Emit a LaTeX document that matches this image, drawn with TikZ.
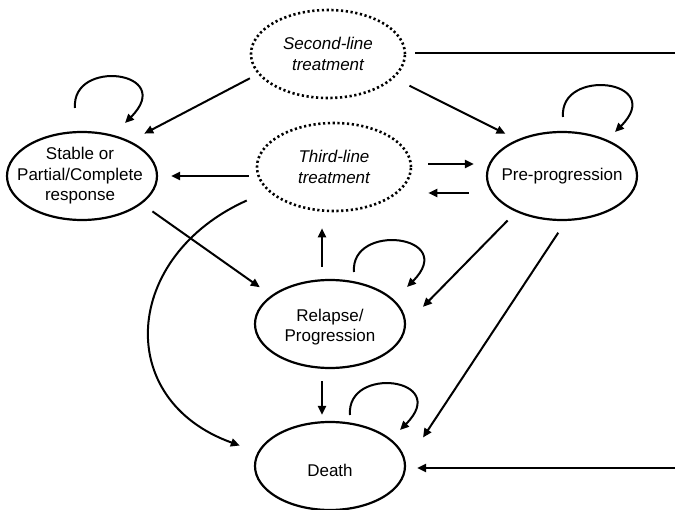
\documentclass[tikz,border=0pt]{standalone}
\usepackage{fontspec}
\setmainfont{Liberation Sans}
\usetikzlibrary{shapes.geometric,arrows.meta,calc}
\begin{document}
\begin{tikzpicture}[x=1pt,y=-1pt,
  st/.style={ellipse,draw,line width=2.2pt,minimum width=150pt,minimum height=88pt,inner sep=0pt},
  tr/.style={ellipse,draw,line width=2.6pt,dash pattern=on 2.2pt off 2.6pt,minimum width=154pt,minimum height=88pt,inner sep=0pt},
  lbl/.style={align=center,font=\fontsize{17}{20.5}\selectfont,inner sep=0pt},
  lbli/.style={align=center,font=\fontsize{17}{21}\selectfont\itshape,inner sep=0pt},
  arr/.style={line width=2pt,-{Triangle[length=9pt,width=8pt]}}
]
\useasboundingbox (0,0) rectangle (675,510);
\clip (0,0) rectangle (675,510);

\node[tr] (S2) at (328,54) {};
\node[lbli] (S2t) at (S2) {Second-line\\treatment};
\node[tr] (T3) at (334,167) {};
\node[lbli] (T3t) at (T3) {Third-line\\treatment};
\node[st] (St) at (82,176) {};
\node[lbl] (Stt) at ([xshift=-2pt]St.center) {Stable or\\Partial/Complete\\response};
\node[st] (P) at (562,176) {};
\node[lbl] (Pt) at (P) {Pre-progression};
\node[st] (R) at (330,324) {};
\node[lbl] (Rt) at ([yshift=-3pt]R.center) {Relapse/\\Progression};
\node[st] (D) at (330,466) {};
\node[lbl] (Dt) at ([yshift=-4pt]D.center) {Death};

\coordinate (eR) at (681,0);
\coordinate (sE) at ([yshift=1pt]S2.east);
\coordinate (dE) at ([yshift=-2pt]D.east);
\coordinate (t3a) at ([yshift=3pt]T3.east);
\coordinate (t3b) at ([yshift=-26pt]T3.east);
\coordinate (rn) at ([xshift=-8pt]R.north);
\coordinate (rs) at ([xshift=-8pt]R.south);

\draw[arr,shorten <=9pt,shorten >=16pt] (S2.196) -- (St.36);
\draw[arr,shorten <=17pt,shorten >=13pt] (S2.340) -- (P.141);
\draw[arr,shorten <=9pt,shorten >=11pt] (sE) -| (eR |- dE) -- (dE);
\draw[arr,shorten <=7pt,shorten >=13pt] (T3.west |- St.east) -- (St.east);
\draw[arr,shorten <=16pt,shorten >=12pt] (t3a) -- (t3a -| P.west);
\draw[arr,shorten <=17pt,shorten >=16pt] (t3b -| P.west) -- (t3b);
\draw[arr,shorten <=13pt,shorten >=14pt] (St.335) -- (R.154);
\draw[arr,shorten <=23pt,shorten >=19pt] (T3.200) .. controls +(-145,65) and +(-145,-52) .. (D.169);
\draw[arr,shorten <=12pt,shorten >=16pt] (rn) -- (rn |- T3.south);
\draw[arr,shorten <=12pt,shorten >=6pt] (rs) -- (rs |- D.north);
\draw[arr,shorten <=12pt,shorten >=24pt] (P.218) -- (R.east);
\draw[arr,shorten <=14pt,shorten >=31pt] (P.275) -- (D.2);

\draw[arr] ($(St)+(-7,-68)$) .. controls +(-4,-50) and +(52,-52) .. ($(St)+(43,-53)$);
\draw[arr] ($(P)+(1,-59)$) .. controls +(-4,-50) and +(52,-52) .. ($(P)+(53,-44)$);
\draw[arr] ($(R)+(24,-52)$) .. controls +(-4,-50) and +(52,-52) .. ($(R)+(77,-37)$);
\draw[arr] ($(D)+(20,-51)$) .. controls +(-4,-50) and +(52,-52) .. ($(D)+(70,-36)$);
\end{tikzpicture}
\end{document}
